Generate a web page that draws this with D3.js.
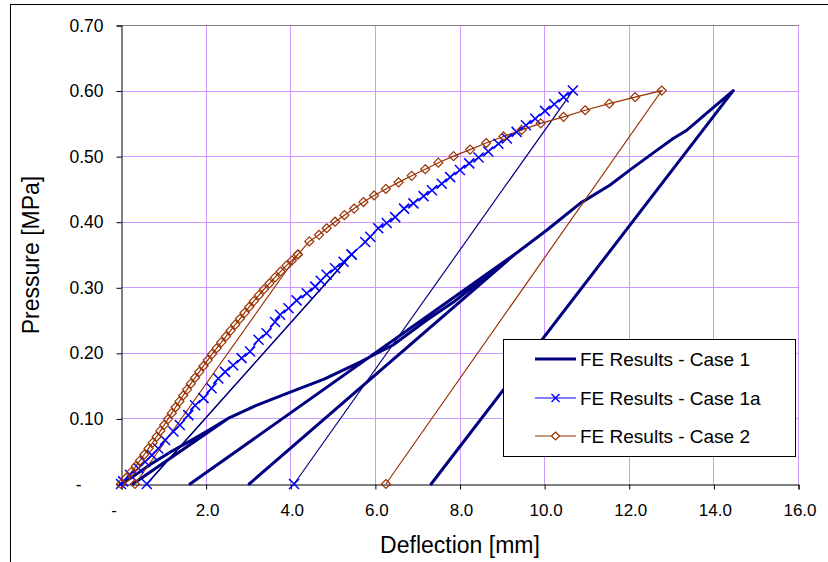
<!DOCTYPE html>
<html>
<head>
<meta charset="utf-8">
<script src="https://cdn.jsdelivr.net/npm/d3@7/dist/d3.min.js"></script>
<style>
  html, body { margin: 0; padding: 0; background: #fff; }
  svg { display: block; font-family: "Liberation Sans", Arial, sans-serif; }
</style>
</head>
<body>
<svg id="chart" width="828" height="562"></svg>
<script>
// ---------- DATA ----------
const xTicks = [0, 2, 4, 6, 8, 10, 12, 14, 16];
const yTicks = [0, 0.1, 0.2, 0.3, 0.4, 0.5, 0.6, 0.7];
const seriesNames = ["FE Results - Case 1", "FE Results - Case 1a", "FE Results - Case 2"];

// Case 1 (load / unload path, no markers)
const case1X = [0, 0.3, 0.7, 1.2, 1.7, 2.1, 2.53, 0.28, 2.53, 3.2, 4.0, 4.8, 5.65, 6.43, 7.23, 7.85, 8.42, 9.3,
                1.63, 9.3, 3.03, 9.3, 10.06, 10.85, 11.56, 12.03, 12.58, 13.05, 13.38, 13.85, 14.47, 7.33];
const case1Y = [0, 0.012, 0.03, 0.05, 0.068, 0.083, 0.1, 0, 0.1, 0.12, 0.14, 0.16, 0.186, 0.212, 0.25, 0.277, 0.306, 0.35,
                0, 0.35, 0, 0.35, 0.387, 0.428, 0.456, 0.479, 0.505, 0.527, 0.54, 0.566, 0.6, 0];

// Case 1a (X markers)
const case1aX = [0, 0.05, 0.21, 0.41, 0.57, 0.73, 0.88, 1.04, 1.24, 1.39, 1.59, 1.75, 1.95, 2.14, 2.30, 2.46, 2.65, 2.85,
                 3.05, 3.25, 3.44, 3.64, 3.76, 3.96, 4.15, 4.39, 4.59, 4.72, 4.86, 5.06, 5.26, 5.45,
                 0.61, 5.45,
                 5.77, 5.89, 6.08, 6.28, 6.48, 6.69, 6.91, 7.15, 7.35, 7.58, 7.78, 8.01, 8.23, 8.45, 8.68, 8.92,
                 9.12, 9.35, 9.57, 9.79, 10.02, 10.24, 10.46, 10.68,
                 4.09];
const case1aY = [0, 0.004, 0.014, 0.024, 0.034, 0.044, 0.054, 0.067, 0.080, 0.090, 0.105, 0.120, 0.131, 0.146, 0.161, 0.171, 0.181, 0.192,
                 0.202, 0.220, 0.230, 0.247, 0.258, 0.268, 0.280, 0.291, 0.301, 0.310, 0.319, 0.329, 0.339, 0.350,
                 0, 0.350,
                 0.369, 0.377, 0.390, 0.398, 0.407, 0.420, 0.428, 0.439, 0.448, 0.458, 0.468, 0.479, 0.489, 0.498, 0.507, 0.519,
                 0.527, 0.537, 0.547, 0.557, 0.569, 0.579, 0.590, 0.600,
                 0];

// Case 2 (diamond markers)
const case2X = [0, 0.12, 0.24, 0.35, 0.45, 0.55, 0.65, 0.75, 0.84, 0.93, 1.02, 1.11, 1.20, 1.29, 1.38, 1.47, 1.56, 1.65,
                1.75, 1.85, 1.95, 2.05, 2.15, 2.26, 2.37, 2.48, 2.59, 2.70, 2.81, 2.92, 3.03, 3.14, 3.26, 3.38,
                3.51, 3.64, 3.77, 3.91, 4.04, 4.18,
                0.33, 4.18,
                4.45, 4.68, 4.86, 5.06, 5.28, 5.51, 5.73, 5.98, 6.26, 6.56, 6.87, 7.19, 7.50, 7.86, 8.25, 8.63,
                9.04, 9.47, 9.92, 10.46, 10.97, 11.54, 12.15, 12.78,
                6.26];
const case2Y = [0, 0.009, 0.018, 0.027, 0.036, 0.045, 0.054, 0.063, 0.072, 0.081, 0.090, 0.099, 0.108, 0.117, 0.126, 0.135, 0.144, 0.153,
                0.162, 0.171, 0.180, 0.189, 0.198, 0.207, 0.216, 0.225, 0.234, 0.243, 0.252, 0.261, 0.270, 0.279, 0.288, 0.297,
                0.306, 0.315, 0.324, 0.333, 0.341, 0.350,
                0, 0.350,
                0.37, 0.38, 0.39, 0.40, 0.41, 0.42, 0.43, 0.44, 0.45, 0.46, 0.47, 0.48, 0.49, 0.50, 0.51, 0.52,
                0.53, 0.54, 0.55, 0.56, 0.57, 0.58, 0.59, 0.60,
                0];

// ---------- LAYOUT ----------
const svg = d3.select("#chart");
const plot = { left: 121, right: 798, top: 25, bottom: 484 };
const navy = "#000080", blue = "#0000FF", brown = "#993300", grid = "#CC99FF";
const FONT = "'Liberation Sans', Arial, sans-serif";

const x = d3.scaleLinear().domain([0, 16]).range([plot.left, plot.right]);
const y = d3.scaleLinear().domain([0, 0.7]).range([plot.bottom, plot.top]);

// outer chart border
svg.append("rect").attr("x", 10.5).attr("y", 4.5).attr("width", 830).attr("height", 580)
  .attr("fill", "#fff").attr("stroke", "#000").attr("stroke-width", 1);

// gridlines
svg.append("g").selectAll("line").data(xTicks.filter(d => d > 0)).join("line")
  .attr("x1", d => Math.round(x(d)) + 0.5).attr("x2", d => Math.round(x(d)) + 0.5)
  .attr("y1", plot.top).attr("y2", plot.bottom)
  .attr("stroke", grid).attr("stroke-width", 1);
svg.append("g").selectAll("line").data(yTicks.filter(d => d > 0 && d < 0.7)).join("line")
  .attr("y1", d => Math.round(y(d)) + 0.5).attr("y2", d => Math.round(y(d)) + 0.5)
  .attr("x1", plot.left).attr("x2", plot.right)
  .attr("stroke", grid).attr("stroke-width", 1);
// top border of plot area
svg.append("line").attr("x1", plot.left).attr("x2", plot.right + 1)
  .attr("y1", Math.round(y(0.7)) + 0.5).attr("y2", Math.round(y(0.7)) + 0.5)
  .attr("stroke", "#808080");

// axes
const yAxis = d3.axisLeft(y).tickValues(yTicks).tickSize(5).tickPadding(13)
  .tickFormat(d => d === 0 ? "-" : d3.format(".2f")(d));
const gy = svg.append("g").attr("transform", `translate(${plot.left + 0.5},0.5)`).call(yAxis);
gy.select(".domain").attr("stroke", "#000");
gy.selectAll(".tick line").attr("stroke", "#000");
gy.selectAll(".tick text").attr("font-size", "17.5px").attr("fill", "#000")
  .attr("font-family", FONT)
  .attr("dx", d => d === 0 ? -22 : 0);

const xAxis = d3.axisBottom(x).tickValues(xTicks).tickSize(5).tickPadding(14)
  .tickFormat(d => d === 0 ? "-" : d3.format(".1f")(d));
const gx = svg.append("g").attr("transform", `translate(0.5,${plot.bottom + 0.5})`).call(xAxis);
gx.select(".domain").attr("stroke", "#000");
gx.selectAll(".tick line").attr("stroke", "#000");
gx.selectAll(".tick text").attr("font-size", "17px").attr("fill", "#000")
  .attr("font-family", FONT)
  .attr("dx", d => d === 0 ? -8 : 1);

// axis titles
svg.append("text").attr("x", 460).attr("y", 553).attr("text-anchor", "middle")
  .attr("font-size", "23px").attr("fill", "#000").attr("font-family", FONT).text("Deflection [mm]");
svg.append("text").attr("transform", "translate(39,255) rotate(-90)").attr("text-anchor", "middle")
  .attr("font-size", "23px").attr("fill", "#000").attr("font-family", FONT).text("Pressure [MPa]");

// ---------- SERIES ----------
const zip = (xs, ys) => xs.map((v, i) => [v, ys[i]]);
const line = d3.line().x(d => x(d[0])).y(d => y(d[1]));
const sG = svg.append("g");

// Case 1
const c1 = zip(case1X, case1Y);
sG.append("path").attr("d", line(c1)).attr("fill", "none")
  .attr("stroke", navy).attr("stroke-width", 3).attr("stroke-linejoin", "round").attr("stroke-linecap", "round");

// Case 1a: loading segments blue, unload/reload segments navy
const c1a = zip(case1aX, case1aY);
const isResidual = p => p[1] === 0 && p[0] > 0;
sG.append("g").selectAll("line").data(d3.pairs(c1a)).join("line")
  .attr("x1", d => x(d[0][0])).attr("y1", d => y(d[0][1]))
  .attr("x2", d => x(d[1][0])).attr("y2", d => y(d[1][1]))
  .attr("stroke", d => (isResidual(d[0]) || isResidual(d[1])) ? navy : blue)
  .attr("stroke-width", 1.2);

// Case 2
const c2 = zip(case2X, case2Y);
sG.append("path").attr("d", line(c2)).attr("fill", "none")
  .attr("stroke", brown).attr("stroke-width", 1.2);

// markers
const xMark = s => `M${-s},${-s}L${s},${s}M${-s},${s}L${s},${-s}`;
sG.append("g").selectAll("path").data(c1a).join("path")
  .attr("transform", d => `translate(${x(d[0])},${y(d[1])})`)
  .attr("d", xMark(5)).attr("stroke", blue).attr("stroke-width", 1.5).attr("fill", "none");

const diamond = s => `M0,${-s}L${s},0L0,${s}L${-s},0Z`;
sG.append("g").selectAll("path").data(c2).join("path")
  .attr("transform", d => `translate(${x(d[0])},${y(d[1])})`)
  .attr("d", diamond(4.5)).attr("stroke", brown).attr("stroke-width", 1.2).attr("fill", "none");

// ---------- LEGEND ----------
const lg = svg.append("g");
lg.append("rect").attr("x", 503.5).attr("y", 339.5).attr("width", 292).attr("height", 117)
  .attr("fill", "#fff").attr("stroke", "#000").attr("stroke-width", 1);
const rowsY = [359, 398, 436];
const styles = [
  { stroke: navy, width: 3, marker: null },
  { stroke: blue, width: 1.2, marker: "x", mcol: blue },
  { stroke: brown, width: 1.2, marker: "d", mcol: brown }
];
seriesNames.forEach((name, i) => {
  const ry = rowsY[i];
  lg.append("line").attr("x1", 535).attr("x2", 576).attr("y1", ry).attr("y2", ry)
    .attr("stroke", styles[i].stroke).attr("stroke-width", styles[i].width);
  if (styles[i].marker === "x") {
    lg.append("path").attr("transform", `translate(555.5,${ry})`).attr("d", xMark(4))
      .attr("stroke", styles[i].mcol).attr("stroke-width", 1.4).attr("fill", "none");
  } else if (styles[i].marker === "d") {
    lg.append("path").attr("transform", `translate(555.5,${ry})`).attr("d", diamond(4))
      .attr("stroke", styles[i].mcol).attr("stroke-width", 1.2).attr("fill", "#fff");
  }
  lg.append("text").attr("x", 580).attr("y", ry + 7).attr("font-size", "19px").attr("fill", "#000")
    .attr("font-family", FONT).text(name);
});
</script>
</body>
</html>
